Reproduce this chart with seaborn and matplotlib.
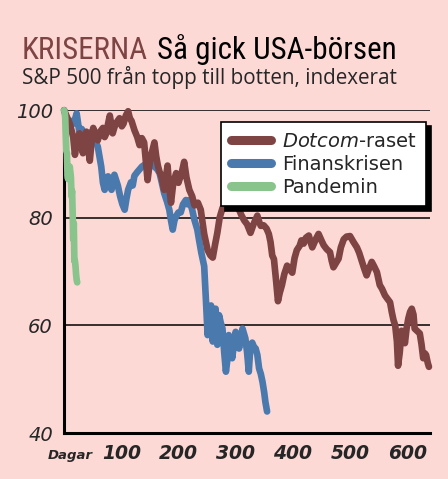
import matplotlib
matplotlib.use("Agg")
import logging
import matplotlib.pyplot as plt
import matplotlib.colors as mcolors
import seaborn as sns
import pandas as pd
from matplotlib.lines import Line2D

logging.getLogger("matplotlib.font_manager").setLevel(logging.ERROR)

# Data: (trading days from peak, index with peak = 100)
dotcom = [(0, 100), (4, 99), (10, 97.5), (16, 95), (19, 91.7), (23, 94.5), (27, 95.7), (30, 93.5),
          (33, 92), (36, 95), (39, 96), (42, 93), (45, 90.6), (48, 94), (51, 96.7), (55, 95.5),
          (59, 94.4), (63, 96), (68, 96.7), (71, 95), (74, 95.7), (77, 97.5), (80, 99), (85, 95.7),
          (88, 96.8), (91, 97.6), (97, 98.5), (101, 97), (104, 97.5), (108, 99), (112, 99.8),
          (115, 98.5), (118, 98), (123, 96.3), (128, 95), (132, 93.5), (136, 94.8), (140, 94),
          (146, 87), (149, 89.5), (152, 91.5), (158, 94), (161, 91.5), (164, 89.7), (167, 88.5),
          (170, 87.8), (175, 85.2), (178, 87.5), (181, 89.7), (184, 85.5), (187, 82.8),
          (191, 86.5), (196, 88.3), (200, 86.5), (203, 87.5), (206, 88.5), (210, 90.4),
          (214, 87.5), (219, 85.2), (224, 84), (228, 82.3), (234, 82.8), (239, 81.5), (245, 77),
          (251, 74), (256, 73), (260, 72.6), (264, 75), (268, 77.2), (272, 80), (277, 81.8),
          (280, 82.3), (283, 82.8), (288, 84.5), (292, 85.8), (295, 84.5), (298, 83),
          (302, 82.5), (306, 81.5), (310, 80.5), (315, 79.5), (320, 78.8), (326, 77.2),
          (332, 79), (338, 80.4), (341, 79.3), (344, 78.5), (349, 78.6), (354, 78), (358, 77),
          (361, 75.5), (364, 73), (367, 72.3), (371, 68), (374, 64.5), (377, 66), (381, 67.5),
          (385, 69.5), (390, 71.1), (394, 70.5), (399, 69.8), (403, 72.5), (407, 74),
          (412, 74.8), (415, 75.8), (419, 75.2), (423, 76.3), (428, 76.7), (431, 75.5),
          (434, 74.5), (438, 75.5), (441, 76.2), (445, 77), (450, 75.8), (454, 74.9),
          (459, 74.2), (465, 73.6), (468, 72), (471, 70.8), (475, 71.5), (480, 72.4),
          (484, 74.5), (489, 76), (494, 76.5), (500, 76.6), (506, 75.5), (512, 74.5),
          (516, 73.5), (521, 71.8), (525, 70.5), (529, 69.3), (533, 70.5), (538, 71.8),
          (542, 71), (547, 69.9), (552, 67.5), (556, 66.8), (561, 65.6), (565, 65), (570, 64.3),
          (573, 62.5), (576, 61), (579, 60), (582, 57), (584, 52.5), (587, 55), (590, 59),
          (593, 58.5), (596, 56.7), (599, 59.5), (602, 61.3), (605, 62.5), (608, 63.1),
          (611, 62), (613, 59.4), (617, 59), (622, 58.5), (625, 56.5), (628, 53.9), (631, 54.8),
          (633, 54.5), (636, 53), (638, 52.3)]

finanskrisen = [(0, 100), (4, 98.5), (7, 96.3), (12, 98), (17, 97.5), (22, 99.4), (27, 95.7),
                (31, 96.5), (36, 95), (42, 95.5), (48, 96), (54, 94.5), (59, 93.2), (65, 89.5),
                (68, 86.5), (71, 85.2), (74, 87.5), (77, 87.7), (80, 86), (83, 85.2), (86, 87),
                (88, 88), (91, 87), (94, 86), (98, 84), (102, 82.5), (106, 81.5), (109, 83.5),
                (112, 85.2), (117, 86.6), (120, 86), (123, 87.8), (128, 88.5), (132, 89),
                (136, 89.5), (140, 89.8), (146, 90), (152, 90.5), (158, 89.5), (163, 89),
                (167, 88.3), (171, 86.5), (175, 84.6), (180, 83), (184, 81.5), (187, 79.5),
                (190, 77.8), (193, 79.5), (196, 80.3), (200, 81), (204, 81), (208, 82.5),
                (213, 83.3), (216, 82.5), (219, 83.3), (224, 81.5), (228, 79.6), (233, 77.8),
                (236, 75.9), (240, 73.5), (245, 71), (248, 64.8), (251, 58.2), (254, 61),
                (257, 63.7), (260, 57), (262, 60), (265, 63.1), (268, 56.4), (271, 61.9),
                (274, 60.5), (277, 59.4), (280, 55), (283, 51.4), (286, 54), (288, 58.2),
                (291, 56), (294, 53.9), (297, 56.5), (300, 58.8), (303, 57.5), (306, 55.7),
                (309, 57.5), (312, 59.4), (317, 57.6), (320, 55), (323, 51.4), (326, 56.4),
                (329, 56.8), (332, 56), (335, 55.7), (338, 54.5), (341, 52), (344, 51),
                (347, 49.5), (350, 47.5), (352, 45.8), (355, 44)]

pandemin = [(0, 100), (1, 99.6), (2, 98.6), (3, 95.2), (4, 92.4), (5, 92), (6, 88), (7, 87.2),
            (8, 89.5), (9, 88.7), (10, 89.5), (11, 88.5), (12, 87.5), (13, 84), (14, 85), (15, 81),
            (16, 76), (17, 79), (18, 72), (19, 72), (20, 71), (21, 69.5), (22, 68.5), (23, 68)]

series_names = ["Dotcom-raset", "Finanskrisen", "Pandemin"]
series_labels = [r"$\it{Dotcom}$-raset", "Finanskrisen", "Pandemin"]
x_ticks = [100, 200, 300, 400, 500, 600]
y_ticks = [40, 60, 80, 100]

frames = []
for name, pts in zip(series_names, [dotcom, finanskrisen, pandemin]):
    d = pd.DataFrame(pts, columns=["dag", "index"])
    d["serie"] = name
    frames.append(d)
df = pd.concat(frames, ignore_index=True)

bg = "#fdd9d6"
palette = {"Dotcom-raset": "#7e4444", "Finanskrisen": "#4a7aad", "Pandemin": "#88c48c"}
layer = {"Dotcom-raset": 4, "Finanskrisen": 3, "Pandemin": 5}

sns.set_style("white")
plt.rcParams["font.family"] = ["DejaVu Sans"]
plt.rcParams["mathtext.fontset"] = "dejavusans"

fig = plt.figure(figsize=(4.48, 4.79), dpi=100, facecolor=bg)
ax = fig.add_axes([0.143, 0.096, 0.817, 0.674])
ax.set_facecolor(bg)

sns.lineplot(data=df, x="dag", y="index", hue="serie", hue_order=series_names,
             palette=palette, estimator=None, sort=False, linewidth=4.8, ax=ax,
             legend=False)
for line in ax.lines:
    line.set_solid_capstyle("round")
    line.set_solid_joinstyle("round")
    line.set_clip_on(False)
    for name, col in palette.items():
        if mcolors.same_color(line.get_color(), col):
            line.set_zorder(layer[name])

ax.set_xlim(0, 640)
ax.set_ylim(40, 100)
ax.set_xticks(x_ticks)
ax.set_yticks(y_ticks)
for v in [60, 80, 100]:
    ax.axhline(v, color="black", lw=1.1, zorder=1)

for s in ["top", "right"]:
    ax.spines[s].set_visible(False)
for s in ["left", "bottom"]:
    ax.spines[s].set_color("black")
    ax.spines[s].set_linewidth(2.2)

ax.tick_params(axis="x", direction="in", length=8, width=1, pad=8, labelsize=13.5)
ax.tick_params(axis="y", length=0, pad=8, labelsize=14)
for lab in ax.get_xticklabels():
    lab.set_fontstyle("italic")
    lab.set_fontweight("bold")
for lab in ax.get_yticklabels():
    lab.set_fontstyle("italic")
ax.set_xlabel("")
ax.set_ylabel("")

fig.text(70 / 448, 1 - 455 / 479, "Dagar", fontsize=9.5, fontstyle="italic",
         fontweight="bold", ha="center", va="center")

# legend
handles = [Line2D([0], [0], color=palette[n], lw=6.5, solid_capstyle="round") for n in series_names]
leg = ax.legend(handles, series_labels, loc="upper right", bbox_to_anchor=(0.99, 0.963),
                borderaxespad=0, fontsize=14, frameon=True, fancybox=False, framealpha=1,
                edgecolor="black", handlelength=2.1, handletextpad=0.55,
                labelspacing=0.2, borderpad=0.5,
                shadow={"color": "black", "alpha": 1, "ox": 3, "oy": -3})
leg.get_frame().set_linewidth(1.2)
leg.set_zorder(6)

# title and subtitle, fitted to the reference widths
title_font = ["Roboto Condensed", "Liberation Sans Narrow", "Roboto", "DejaVu Sans"]
t1 = fig.text(22 / 448, 1 - 59 / 479, "KRISERNA", color="#7e4444", fontsize=23,
              family=title_font, va="baseline")
t2 = fig.text(0, 1 - 59 / 479, "Så gick USA-börsen", fontsize=23, family=title_font,
              color="black", va="baseline")
renderer = fig.canvas.get_renderer()
gap = 9
w = t1.get_window_extent(renderer).width + gap + t2.get_window_extent(renderer).width
size = 23 * 378 / w
t1.set_fontsize(size)
t2.set_fontsize(size)
x2 = t1.get_window_extent(renderer).x1 + gap
t2.set_x(x2 / fig.bbox.width)

sub = fig.text(22 / 448, 1 - 84 / 479, "S&P 500 från topp till botten, indexerat",
               fontsize=15, family=["Open Sans", "DejaVu Sans"], va="baseline")
sw = sub.get_window_extent(renderer).width
sub.set_fontsize(15 * 376 / sw)

fig.savefig("out.png", dpi=100, facecolor=bg)
